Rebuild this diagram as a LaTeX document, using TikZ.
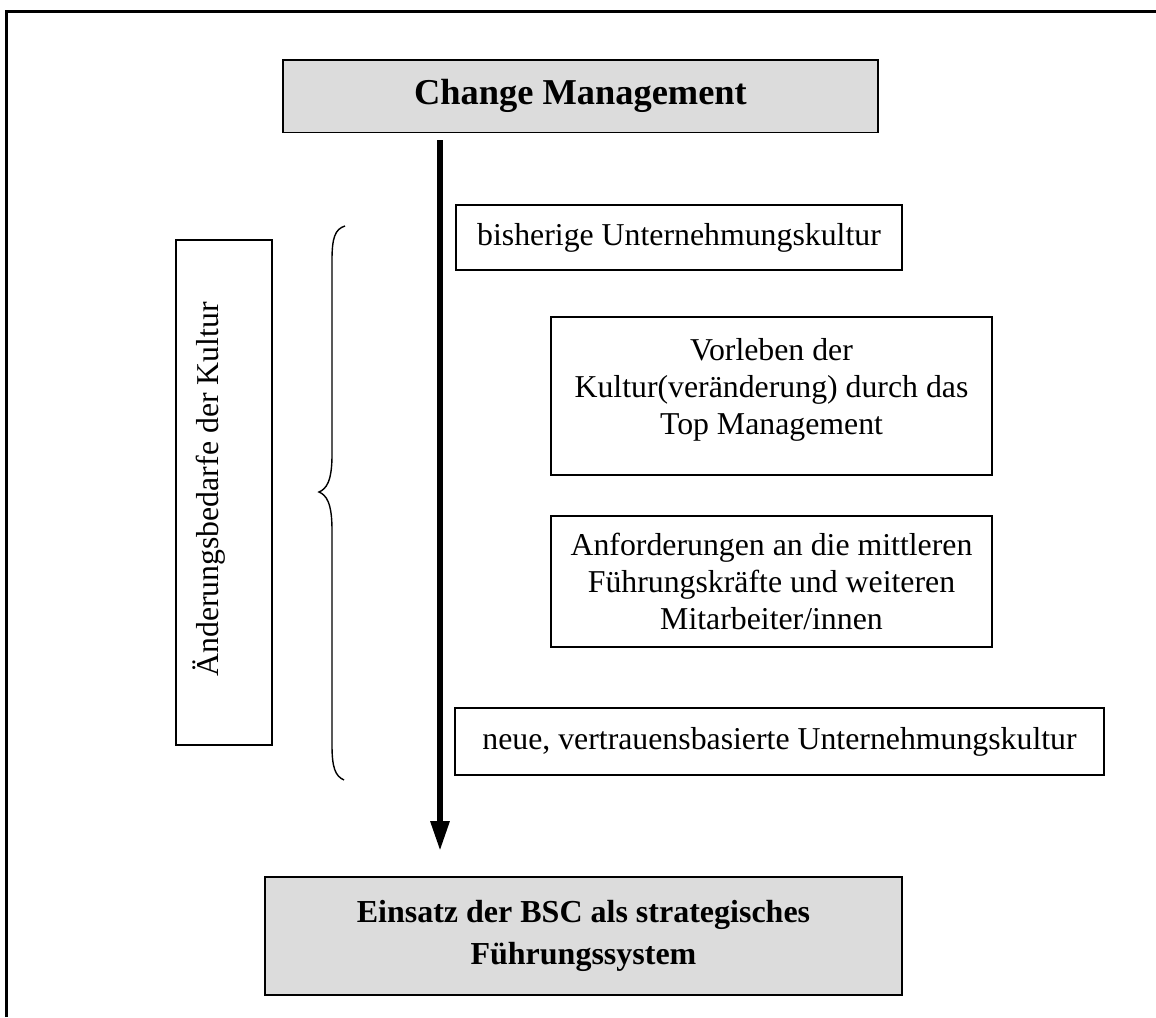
\documentclass[tikz,border=0pt]{standalone}
\usepackage{fontspec}
\setmainfont{Liberation Serif}
\usetikzlibrary{arrows.meta}
\definecolor{boxgray}{HTML}{DCDCDC}
\begin{document}
\begin{tikzpicture}[x=1pt,y=-1pt,
  box/.style={draw=black,line width=1.4pt,align=center,inner sep=0pt,
    font=\fontsize{31.8}{36.8}\selectfont},
  graybox/.style={box,fill=boxgray,font=\bfseries\fontsize{32}{42}\selectfont},
  flow/.style={line width=6pt,-{Triangle[width=18pt,length=30pt]}},
  bracepath/.style={line width=1.4pt},
]
\useasboundingbox (0,0) rectangle (1156,1017);

% page frame (only top and left edge visible)
\draw[line width=2.5pt] (6.5,1017) -- (6.5,11.5) -- (1156,11.5);

% top and bottom grey boxes
\node[graybox,minimum width=595pt,minimum height=72.6pt,
  font=\bfseries\fontsize{36.4}{42}\selectfont] (title) at (580.5,96.3) {Change Management};
\node[graybox,minimum width=637pt,minimum height=118pt] (bsc) at (583.5,936)
  {Einsatz der BSC als strategisches\\Führungssystem};

% main vertical arrow
\coordinate (atop) at (440,140);
\coordinate (abot) at (440,851);
\draw[flow] (atop) -- (abot);

% left box with rotated label
\node[box,minimum width=96pt,minimum height=505pt] (lbox) at (224,492.5) {};
\node[rotate=90,font=\fontsize{31.8}{36.8}\selectfont,inner sep=0pt,anchor=base east]
  (ltext) at (218,302) {Änderungsbedarfe der Kultur};

% curly brace
\draw[bracepath] (345,226) .. controls (335,229) and (332,238) .. (332,260)
  -- (332,455) .. controls (332,482) and (326,489) .. (319,492)
  .. controls (326,495) and (332,502) .. (332,530)
  -- (332,745) .. controls (332,767) and (335,776) .. (344,780);

% right-hand boxes
\node[box,minimum width=446pt,minimum height=65pt] (b1) at (679,237.5)
  {bisherige Unternehmungskultur};
\node[box,minimum width=441pt,minimum height=158pt,text depth=19pt] (b2) at (771.5,396)
  {Vorleben der\\Kultur(veränderung) durch das\\Top Management};
\node[box,minimum width=441pt,minimum height=131pt] (b3) at (771.5,581.5)
  {Anforderungen an die mittleren\\Führungskräfte und weiteren\\Mitarbeiter/innen};
\node[box,minimum width=649pt,minimum height=67pt] (b4) at (779.5,741.5)
  {neue, vertrauensbasierte Unternehmungskultur};
\end{tikzpicture}
\end{document}
